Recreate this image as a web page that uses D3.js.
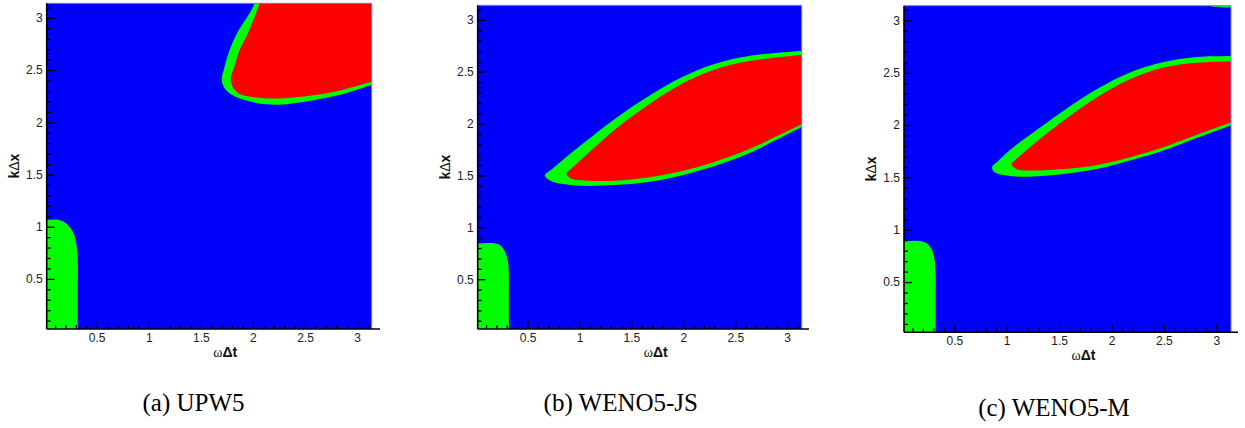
<!DOCTYPE html>
<html><head><meta charset="utf-8">
<script src="https://cdn.jsdelivr.net/npm/d3@7"></script>
<style>body{margin:0;background:#fff} svg{display:block}</style>
</head><body>
<svg id="chart" width="1245" height="428"></svg>
<script>
// ---------- data ----------
const domainW = [0.02, 3.14];
const domainK = [0.02, 3.14];
const majorTicks = [0.5, 1, 1.5, 2, 2.5, 3];
const tickLabels = ["0.5", "1", "1.5", "2", "2.5", "3"];
const captions = ["(a) UPW5", "(b) WENO5-JS", "(c) WENO5-M"];
const xTitle = ["\u03c9", "\u0394t"];
const yTitle = ["k", "\u0394", "x"];

// UPW5 contour boundaries [omega*dt, k*dx]
const upw5Outer = [[2.04,3.3],[2.013,3.133],[1.844,2.847],[1.774,2.688],[1.727,2.529],[1.701,2.401],[1.743,2.306],[1.838,2.242],[1.997,2.195],[2.125,2.172],[2.285,2.17],[2.604,2.215],[2.858,2.268],[3.129,2.354],[3.3,2.41]];
const upw5OuterClose = [[3.3,3.3]];
const upw5Inner = [[2.09,3.3],[2.061,3.133],[1.949,2.847],[1.870,2.688],[1.822,2.529],[1.790,2.434],[1.806,2.339],[1.870,2.274],[1.997,2.242],[2.22,2.228],[2.604,2.262],[2.858,2.31],[3.129,2.386],[3.3,2.44]];
const upw5InnerClose = [[3.3,3.3]];
const upw5Corner = [[-0.2,1.066],[0.02,1.066],[0.133,1.066],[0.213,1.027],[0.277,0.939],[0.308,0.812],[0.318,0.685],[0.318,0.35],[0.318,-0.2]];

// WENO5-JS
const jsOuter = [[3.3,2.71],[3.135,2.70],[2.62,2.65],[2.30,2.575],[1.98,2.445],[1.66,2.26],[1.34,2.045],[1.019,1.795],[0.859,1.665],[0.74,1.565],[0.667,1.50],[0.72,1.45],[0.859,1.414],[1.02,1.40],[1.34,1.407],[1.66,1.437],[1.98,1.50],[2.30,1.59],[2.62,1.708],[2.94,1.865],[3.135,1.964],[3.3,2.046]];
const jsInner = [[3.3,2.67],[3.135,2.66],[2.62,2.60],[2.30,2.52],[1.98,2.38],[1.66,2.18],[1.34,1.94],[1.02,1.655],[0.90,1.545],[0.875,1.516],[0.923,1.468],[1.08,1.45],[1.34,1.45],[1.66,1.48],[1.98,1.54],[2.30,1.63],[2.62,1.747],[2.94,1.897],[3.135,1.99],[3.3,2.07]];
const jsCorner = [[-0.2,0.845],[0.02,0.845],[0.186,0.845],[0.234,0.829],[0.282,0.766],[0.314,0.653],[0.320,0.525],[0.320,0.3],[0.320,-0.2]];

// WENO5-M
const mOuter = [[3.3,2.665],[3.14,2.66],[2.81,2.65],[2.49,2.60],[2.17,2.50],[1.855,2.34],[1.54,2.135],[1.22,1.905],[1.06,1.786],[0.92,1.66],[0.86,1.596],[0.886,1.549],[1.06,1.51],[1.22,1.507],[1.54,1.532],[1.855,1.58],[2.17,1.66],[2.49,1.754],[2.81,1.875],[3.14,1.995],[3.3,2.05]];
const mInner = [[3.3,2.615],[3.14,2.61],[2.81,2.594],[2.49,2.547],[2.17,2.435],[1.855,2.26],[1.54,2.04],[1.22,1.786],[1.07,1.655],[1.045,1.627],[1.09,1.58],[1.22,1.565],[1.54,1.58],[1.855,1.617],[2.17,1.69],[2.49,1.786],[2.81,1.905],[3.14,2.024],[3.3,2.08]];
const mCorner = [[-0.2,0.893],[0.02,0.893],[0.17,0.893],[0.233,0.874],[0.281,0.82],[0.31,0.725],[0.322,0.582],[0.322,0.3],[0.322,-0.2]];
const mSliver = [[2.90,3.3],[2.95,3.14],[3.02,3.128],[3.14,3.122],[3.3,3.12]];
const mSliverClose = [[3.3,3.3]];

// ---------- layout ----------
const panels = [
  {left:46.7, right:371.7, top:3.3, bottom:329, axisEnd:380, cap:[193.5,411],
   regions:[{c:upw5Outer, z:upw5OuterClose, f:"#00ff00"},{c:upw5Inner, z:upw5InnerClose, f:"#ff0000"},{c:upw5Corner, z:[[-0.2,-0.2]], f:"#00ff00"}]},
  {left:477.7, right:801.7, top:5.3, bottom:329, axisEnd:809, cap:[620.8,411],
   regions:[{c:jsOuter, z:[], f:"#00ff00"},{c:jsInner, z:[], f:"#ff0000"},{c:jsCorner, z:[[-0.2,-0.2]], f:"#00ff00"}]},
  {left:904, right:1231, top:5.7, bottom:332.3, axisEnd:1238, cap:[1054,416],
   regions:[{c:mOuter, z:[], f:"#00ff00"},{c:mInner, z:[], f:"#ff0000"},{c:mCorner, z:[[-0.2,-0.2]], f:"#00ff00"},{c:mSliver, z:mSliverClose, f:"#00ff00"}]}
];

const svg = d3.select("#chart");
svg.append("rect").attr("width",1245).attr("height",428).attr("fill","#fff");
const sans = "'Liberation Sans', Arial, sans-serif";
const serif = "'Liberation Serif', 'Times New Roman', serif";

panels.forEach((p, i) => {
  const x = d3.scaleLinear().domain(domainW).range([p.left, p.right]);
  const y = d3.scaleLinear().domain(domainK).range([p.bottom, p.top]);
  const g = svg.append("g");
  const clipId = "clip" + i;
  g.append("clipPath").attr("id", clipId).append("rect")
    .attr("x", p.left).attr("y", p.top).attr("width", p.right - p.left).attr("height", p.bottom - p.top);

  g.append("rect").attr("x", p.left).attr("y", p.top)
    .attr("width", p.right - p.left).attr("height", p.bottom - p.top).attr("fill", "#0000ff");

  const curve = d3.line().x(d => x(d[0])).y(d => y(d[1])).curve(d3.curveCatmullRom.alpha(0.5));
  const lin = d3.line().x(d => x(d[0])).y(d => y(d[1]));
  const cg = g.append("g").attr("clip-path", `url(#${clipId})`);
  p.regions.forEach(r => {
    let dstr = curve(r.c);
    if (r.z.length) dstr += lin(r.z).replace(/^M/, "L");
    dstr += "Z";
    cg.append("path").attr("d", dstr).attr("fill", r.f);
  });

  // light frame top/right
  g.append("path")
    .attr("d", `M${p.left},${p.top}H${p.right}V${p.bottom}`)
    .attr("fill","none").attr("stroke","#7a7aff").attr("stroke-width",1);

  // axes
  const xMinor = x.ticks(31).filter(t => !majorTicks.some(m => Math.abs(m - t) < 1e-9));
  const yMinor = y.ticks(31).filter(t => !majorTicks.some(m => Math.abs(m - t) < 1e-9));

  const xa = g.append("g").attr("transform", `translate(0,${p.bottom})`)
    .call(d3.axisBottom(x).tickValues(majorTicks).tickFormat((d, j) => tickLabels[j]).tickSizeInner(-8).tickSizeOuter(0).tickPadding(4));
  const xm = g.append("g").attr("transform", `translate(0,${p.bottom})`)
    .call(d3.axisBottom(x).tickValues(xMinor).tickFormat("").tickSizeInner(-4).tickSizeOuter(0));
  const ya = g.append("g").attr("transform", `translate(${p.left},0)`)
    .call(d3.axisLeft(y).tickValues(majorTicks).tickFormat((d, j) => tickLabels[j]).tickSizeInner(-8).tickSizeOuter(0).tickPadding(4));
  const ym = g.append("g").attr("transform", `translate(${p.left},0)`)
    .call(d3.axisLeft(y).tickValues(yMinor).tickFormat("").tickSizeInner(-4).tickSizeOuter(0));
  [xa, xm, ya, ym].forEach(a => {
    a.select(".domain").remove();
    a.selectAll(".tick line").attr("stroke", "#000").attr("stroke-width", 1.3);
    a.selectAll(".tick text").attr("fill", "#222").style("font-family", sans).style("font-size", "12px");
  });

  g.append("line").attr("x1", p.left).attr("x2", p.axisEnd).attr("y1", p.bottom).attr("y2", p.bottom)
    .attr("stroke", "#000").attr("stroke-width", 1.6);
  g.append("line").attr("x1", p.left).attr("x2", p.left).attr("y1", p.top).attr("y2", p.bottom)
    .attr("stroke", "#000").attr("stroke-width", 1.6);

  // axis titles
  const cx = (p.left + p.right) / 2 + 16;
  const xt = g.append("text").attr("x", cx).attr("y", p.bottom + 28).attr("text-anchor", "middle")
    .style("font-size", "14px").attr("fill", "#111");
  xt.append("tspan").text(xTitle[0]).style("font-family", serif);
  xt.append("tspan").text(xTitle[1]).style("font-family", sans).style("font-weight", "bold");

  const cy = (p.top + p.bottom) / 2;
  const yt = g.append("text").attr("transform", `translate(${p.left - 28},${cy}) rotate(-90)`)
    .attr("text-anchor", "middle").style("font-size", "14px").style("font-family", sans).attr("fill", "#111");
  yt.append("tspan").text(yTitle[0]).style("font-weight", "bold");
  yt.append("tspan").text(yTitle[1]);
  yt.append("tspan").text(yTitle[2]).style("font-weight", "bold");

  svg.append("text").attr("x", p.cap[0]).attr("y", p.cap[1]).attr("text-anchor", "middle")
    .style("font-family", serif).style("font-size", "25px").attr("fill", "#000").text(captions[i]);
});
</script>
</body></html>
